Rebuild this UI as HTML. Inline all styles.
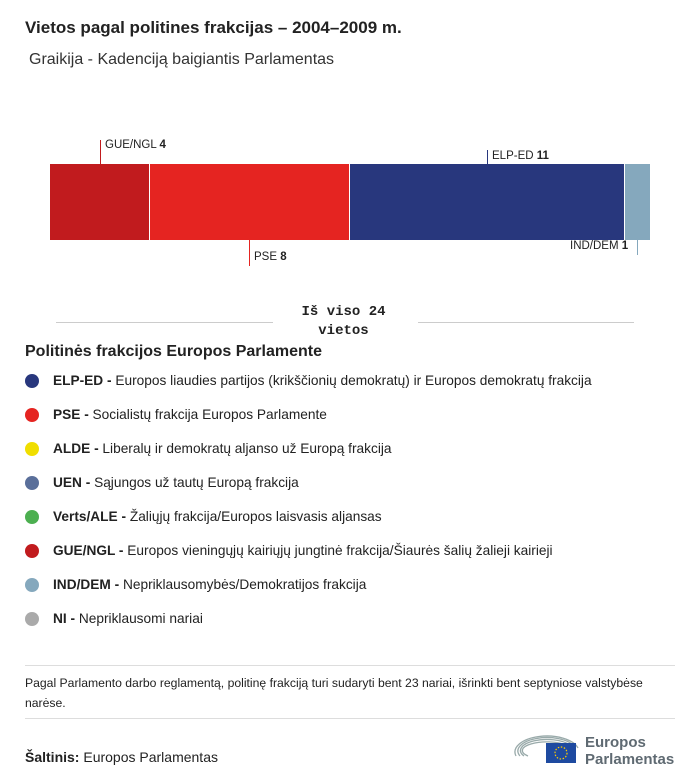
<!DOCTYPE html><html><head><meta charset="utf-8"><style>
body{margin:0;width:700px;height:784px;background:#fff;font-family:"Liberation Sans",sans-serif;color:#222;position:relative;overflow:hidden}
.a{position:absolute;white-space:nowrap}
.leg{position:absolute;left:25px;font-size:13.7px}
.dot{position:absolute;left:0;top:1px;width:14px;height:14px;border-radius:50%}
.leg span.t{position:absolute;left:28px;top:0;white-space:nowrap}
.hl{position:absolute;height:1px;background:#ccc}
</style></head><body>
<div class="a" style="left:25px;top:18px;font-size:17px;font-weight:bold">Vietos pagal politines frakcijas – 2004–2009 m.</div>
<div class="a" style="left:29px;top:51px;font-size:16px;color:#333">Graikija - Kadenciją baigiantis Parlamentas</div>
<div class="a" style="left:50px;top:164px;width:99px;height:76px;background:#c11b1e"></div>
<div class="a" style="left:150px;top:164px;width:199px;height:76px;background:#e52421"></div>
<div class="a" style="left:350px;top:164px;width:274px;height:76px;background:#28377d"></div>
<div class="a" style="left:625px;top:164px;width:25px;height:76px;background:#85a8bd"></div>
<div class="a" style="left:100px;top:140px;width:1px;height:24px;background:#c11b1e"></div>
<div class="a" style="left:105px;top:139px;font-size:11.5px">GUE/NGL <b>4</b></div>
<div class="a" style="left:487px;top:150px;width:1px;height:14px;background:#28377d"></div>
<div class="a" style="left:492px;top:150px;font-size:11.5px">ELP-ED <b>11</b></div>
<div class="a" style="left:249px;top:240px;width:1px;height:26px;background:#e52421"></div>
<div class="a" style="left:254px;top:251px;font-size:11.5px">PSE <b>8</b></div>
<div class="a" style="left:637px;top:240px;width:1px;height:15px;background:#85a8bd"></div>
<div class="a" style="left:570px;top:240px;font-size:11.5px">IND/DEM <b>1</b></div>
<div class="hl" style="left:56px;top:322px;width:217px"></div>
<div class="hl" style="left:418px;top:322px;width:216px"></div>
<div class="a" style="left:271px;top:303px;width:145px;text-align:center;font-family:'Liberation Mono',monospace;font-weight:bold;font-size:14px;line-height:19px;white-space:normal">Iš viso 24<br>vietos</div>
<div class="a" style="left:25px;top:343px;font-size:16px;font-weight:bold">Politinės frakcijos Europos Parlamente</div>
<div class="leg" style="top:373px"><div class="dot" style="background:#28377d"></div><span class="t"><b>ELP-ED -</b> Europos liaudies partijos (krikščionių demokratų) ir Europos demokratų frakcija</span></div>
<div class="leg" style="top:407px"><div class="dot" style="background:#e52421"></div><span class="t"><b>PSE -</b> Socialistų frakcija Europos Parlamente</span></div>
<div class="leg" style="top:441px"><div class="dot" style="background:#f0de00"></div><span class="t"><b>ALDE -</b> Liberalų ir demokratų aljanso už Europą frakcija</span></div>
<div class="leg" style="top:475px"><div class="dot" style="background:#5a6f9a"></div><span class="t"><b>UEN -</b> Sąjungos už tautų Europą frakcija</span></div>
<div class="leg" style="top:509px"><div class="dot" style="background:#4caf50"></div><span class="t"><b>Verts/ALE -</b> Žaliųjų frakcija/Europos laisvasis aljansas</span></div>
<div class="leg" style="top:543px"><div class="dot" style="background:#c11b1e"></div><span class="t"><b>GUE/NGL -</b> Europos vieningųjų kairiųjų jungtinė frakcija/Šiaurės šalių žalieji kairieji</span></div>
<div class="leg" style="top:577px"><div class="dot" style="background:#85a8bd"></div><span class="t"><b>IND/DEM -</b> Nepriklausomybės/Demokratijos frakcija</span></div>
<div class="leg" style="top:611px"><div class="dot" style="background:#aaa"></div><span class="t"><b>NI -</b> Nepriklausomi nariai</span></div>
<div class="hl" style="left:25px;top:665px;width:650px;background:#ddd"></div>
<div class="a" style="left:25px;top:673px;font-size:12.2px;line-height:20px">Pagal Parlamento darbo reglamentą, politinę frakciją turi sudaryti bent 23 nariai, išrinkti bent septyniose valstybėse<br>narėse.</div>
<div class="hl" style="left:25px;top:718px;width:650px;background:#ddd"></div>
<div class="a" style="left:25px;top:749px;font-size:14px"><b>Šaltinis:</b> Europos Parlamentas</div>
<svg class="a" style="left:512px;top:728px" width="70" height="40"><g fill="none" stroke="#9aa" stroke-width="1.3"><path d="M4 28 A32 16 0 0 1 66 20"/><path d="M8 28 A28 13 0 0 1 62 18"/><path d="M12 28 A24 10 0 0 1 58 17"/><path d="M16 28 A20 7 0 0 1 54 17"/></g><rect x="34" y="15" width="30" height="20" fill="#1e4aa0"/><circle cx="49" cy="25" r="6" fill="none" stroke="#fc0" stroke-width="1.2" stroke-dasharray="1.5 1.6"/></svg>
<div class="a" style="left:585px;top:734px;font-size:15px;font-weight:bold;color:#5f6a72;line-height:17px">Europos<br>Parlamentas</div>
</body></html>
